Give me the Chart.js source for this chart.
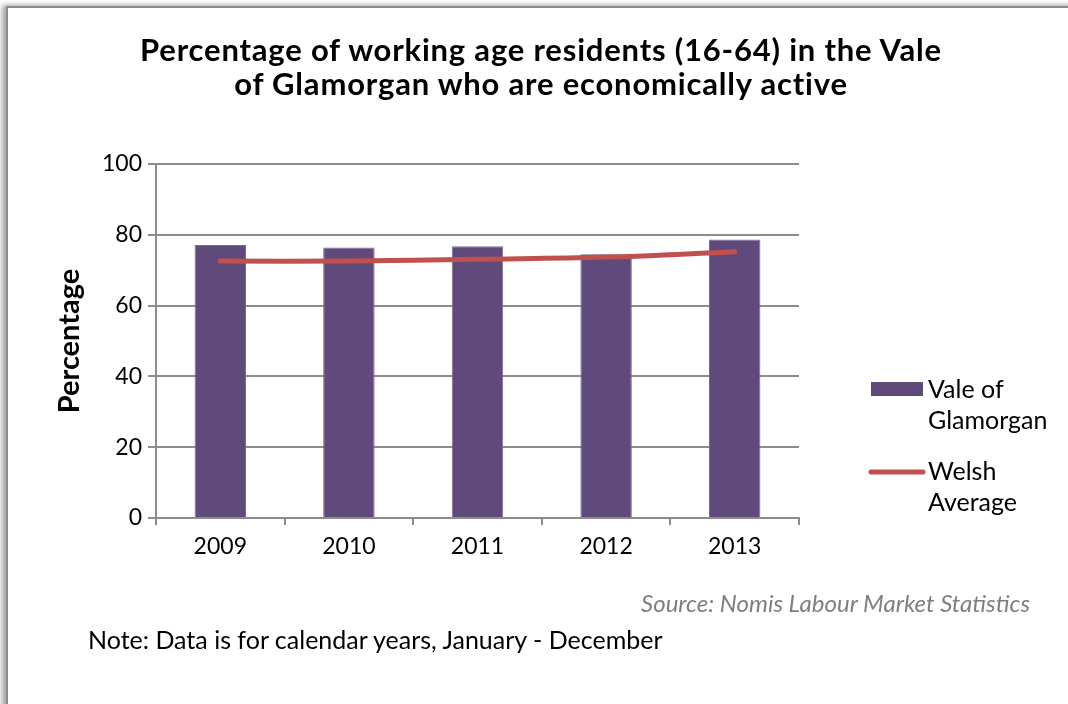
<!DOCTYPE html>
<html>
<head>
<meta charset="utf-8">
<script src="https://cdn.jsdelivr.net/npm/chart.js@4.4.1/dist/chart.umd.min.js"></script>
<style>
  html, body { margin: 0; padding: 0; background: #fff; }
  body { width: 1068px; height: 704px; position: relative; overflow: hidden; font-family: Lato, "Open Sans", sans-serif; }
  .frame {
    position: absolute; left: 6px; top: 6px; width: 1120px; height: 800px;
    border: 2px solid #8c8c8c;
    box-shadow: -4px -1px 5px rgba(0,0,0,0.35);
  }
  #wrap { position: absolute; left: 0; top: 0; width: 1068px; height: 704px; }
  .title {
    position: absolute; left: 41px; width: 1000px; top: 32px;
    text-align: center; font-size: 31px; line-height: 34px; font-weight: bold;
    letter-spacing: 0.8px; color: #000; white-space: nowrap;
  }
  .source {
    position: absolute; right: 38px; top: 588px;
    font-size: 24px; font-style: italic; color: #7f7f7f;
  }
  .note {
    position: absolute; left: 88px; top: 624px;
    font-size: 25px; color: #000;
  }
</style>
</head>
<body>
<div class="frame"></div>
<div id="wrap"><canvas id="myChart"></canvas></div>
<div class="title">Percentage of working age residents (16-64) in the Vale<br>of Glamorgan who are economically active</div>
<div class="source">Source: Nomis Labour Market Statistics</div>
<div class="note">Note: Data is for calendar years, January - December</div>
<script>
const years = ["2009", "2010", "2011", "2012", "2013"];
const valeValues = [77.1, 76.4, 76.8, 74.5, 78.7];
const welshValues = [72.6, 72.6, 73.1, 73.7, 75.2];
const yTicks = [0, 20, 40, 60, 80, 100];
const legendLines = [["Vale of", "Glamorgan"], ["Welsh", "Average"]];

const FONT = "Lato, 'Open Sans', sans-serif";
const axisGrey = "#8c8c8c";

// two-line legend at the right of the plot
const sideLegend = {
  id: "sideLegend",
  afterDraw(chart) {
    const ctx = chart.ctx;
    const x = chart.chartArea.right + 72;
    const rows = [390, 472];
    ctx.save();
    ctx.font = "25px " + FONT;
    ctx.textBaseline = "middle";
    chart.data.datasets.forEach((ds, i) => {
      const y = rows[i];
      if (ds.type === "line") {
        ctx.strokeStyle = ds.borderColor;
        ctx.lineWidth = 5;
        ctx.lineCap = "round";
        ctx.beginPath();
        ctx.moveTo(x, y);
        ctx.lineTo(x + 52, y);
        ctx.stroke();
      } else {
        ctx.fillStyle = ds.backgroundColor;
        ctx.fillRect(x, y - 8, 52, 14);
      }
      ctx.fillStyle = "#000";
      legendLines[i].forEach((t, j) => ctx.fillText(t, x + 57, y + j * 31));
    });
    ctx.restore();
  }
};

new Chart(document.getElementById("myChart"), {
  data: {
    labels: years,
    datasets: [
      {
        type: "bar",
        label: "Vale of Glamorgan",
        data: valeValues,
        backgroundColor: "#604A7B",
        borderColor: "#7b6896",
        borderWidth: 1,
        barPercentage: 0.4,
        categoryPercentage: 1,
        order: 1,
      },
      {
        type: "line",
        label: "Welsh Average",
        data: welshValues,
        borderColor: "#C0504D",
        borderWidth: 5,
        borderCapStyle: "round",
        pointRadius: 0,
        tension: 0.4,
        order: 0,
      }
    ]
  },
  plugins: [sideLegend],
  options: {
    responsive: true,
    maintainAspectRatio: false,
    animation: false,
    layout: { padding: { left: 52, right: 269, top: 164, bottom: 126 } },
    plugins: {
      legend: { display: false },
      tooltip: { enabled: false },
    },
    scales: {
      x: {
        grid: { drawOnChartArea: false, color: axisGrey, tickLength: 7, lineWidth: 2 },
        border: { color: axisGrey, width: 2 },
        ticks: { color: "#000", font: { family: FONT, size: 23 }, padding: 8 },
        afterFit: s => { s.height = 60; },
      },
      y: {
        min: 0,
        max: 100,
        afterBuildTicks: s => { s.ticks = yTicks.map(v => ({ value: v })); },
        grid: { color: axisGrey, tickLength: 8, lineWidth: 2 },
        border: { color: axisGrey, width: 2 },
        ticks: { color: "#000", font: { family: FONT, size: 23 }, padding: 6 },
        title: {
          display: true,
          text: "Percentage",
          color: "#000",
          font: { family: FONT, size: 29, weight: "bold" },
          padding: 0,
        },
        afterFit: s => { s.width = 104; },
      }
    }
  }
});
</script>
</body>
</html>
